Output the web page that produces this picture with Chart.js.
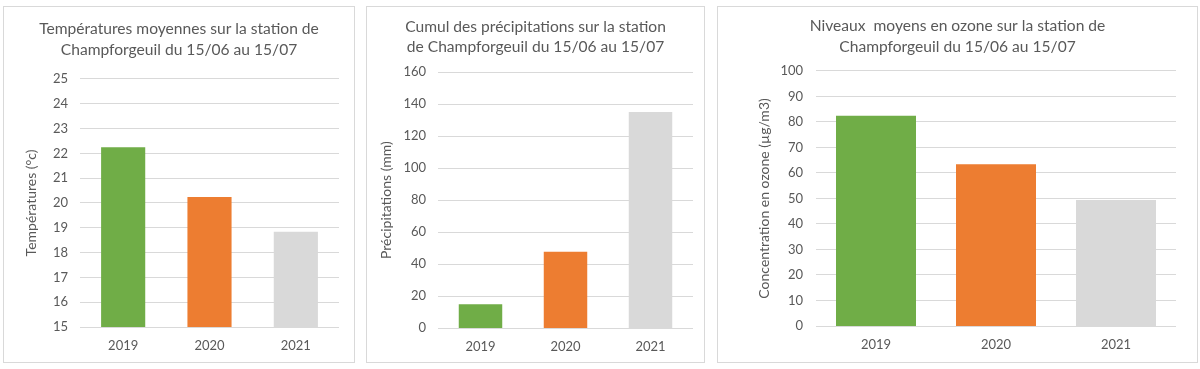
<!DOCTYPE html>
<html lang="fr">
<head>
<meta charset="utf-8">
<script src="https://cdn.jsdelivr.net/npm/chart.js@4/dist/chart.umd.min.js"></script>
<style>
  body { margin: 0; background: #fff; width: 1200px; height: 369px; position: relative; overflow: hidden; }
  .panel { position: absolute; top: 6px; border: 1px solid #d9d9d9; background: #fff; }
  canvas { display: block; }
</style>
</head>
<body>
<div class="panel" style="left:3px"><canvas id="tempChart" width="350" height="355"></canvas></div>
<div class="panel" style="left:366px"><canvas id="rainChart" width="337" height="355"></canvas></div>
<div class="panel" style="left:717px"><canvas id="ozoneChart" width="479" height="355"></canvas></div>
<script>
// data
const years = ["2019", "2020", "2021"];
const temperatures = [22.2, 20.2, 18.8];
const precipitations = [14.2, 47.1, 134.5];
const ozone = [82, 63, 49];

const barColors = ["#70AD47", "#ED7D31", "#D9D9D9"];
const textColor = "#595959";
const gridColor = "#D9D9D9";
const fontFamily = "Lato, 'Open Sans', sans-serif";

function makeChart(id, opts) {
  const ctx = document.getElementById(id).getContext("2d");
  return new Chart(ctx, {
    type: "bar",
    data: {
      labels: years,
      datasets: [
        {
          data: opts.values,
          backgroundColor: barColors,
          categoryPercentage: 1,
          barPercentage: opts.barPct,
          inflateAmount: 1 // bars cover the baseline grid line
        }
      ]
    },
    options: {
      responsive: false,
      animation: false,
      // same padding on both sides so the title stays centred on the panel
      layout: { padding: { left: opts.side, right: opts.side, top: 0, bottom: 0 } },
      plugins: {
        legend: { display: false },
        tooltip: { enabled: false },
        title: {
          display: true,
          text: opts.title,
          color: textColor,
          font: { family: fontFamily, size: 15.6, weight: "normal", lineHeight: 1.33 },
          padding: { top: opts.titleTop, bottom: opts.titleBottom }
        }
      },
      scales: {
        x: {
          grid: { display: false, drawTicks: false },
          border: { display: false },
          ticks: { color: textColor, font: { family: fontFamily, size: 13 }, padding: opts.xPad },
          afterFit: (scale) => { scale.height = opts.xHeight; }
        },
        y: {
          min: opts.min,
          max: opts.max,
          grid: { color: gridColor, drawTicks: false },
          border: { display: false },
          ticks: {
            stepSize: opts.step,
            color: textColor,
            font: { family: fontFamily, size: 13 },
            padding: opts.yPad
          },
          title: {
            display: true,
            text: opts.yTitle,
            color: textColor,
            font: { family: fontFamily, size: 14 },
            padding: { top: opts.yTitleTop, bottom: 0 }
          },
          afterFit: (scale) => { scale.width = opts.yWidth; }
        }
      }
    }
  });
}

makeChart("tempChart", {
  values: temperatures,
  title: ["Températures moyennes sur la station de", "Champforgeuil du 15/06 au 15/07"],
  yTitle: "Températures (°c)",
  min: 15, max: 25, step: 1,
  barPct: 0.488,
  side: 15, yWidth: 61, xHeight: 35,
  titleTop: 12, titleBottom: 18.4,
  yTitleTop: 3.6, yPad: 12, xPad: 11.4
});

makeChart("rainChart", {
  values: precipitations,
  title: ["Cumul des précipitations sur la station", "de Champforgeuil du 15/06 au 15/07"],
  yTitle: "Précipitations (mm)",
  min: 0, max: 160, step: 20,
  barPct: 0.488,
  side: 11, yWidth: 60, xHeight: 34,
  titleTop: 9.3, titleBottom: 14.4,
  yTitleTop: 0.5, yPad: 12, xPad: 11
});

makeChart("ozoneChart", {
  values: ozone,
  title: ["Niveaux  moyens en ozone sur la station de", "Champforgeuil du 15/06 au 15/07"],
  yTitle: "Concentration en ozone (µg/m3)",
  min: 0, max: 100, step: 10,
  barPct: 0.65,
  side: 21, yWidth: 77, xHeight: 36,
  titleTop: 8.6, titleBottom: 13.8,
  yTitleTop: 17, yPad: 13, xPad: 11
});
</script>
</body>
</html>
